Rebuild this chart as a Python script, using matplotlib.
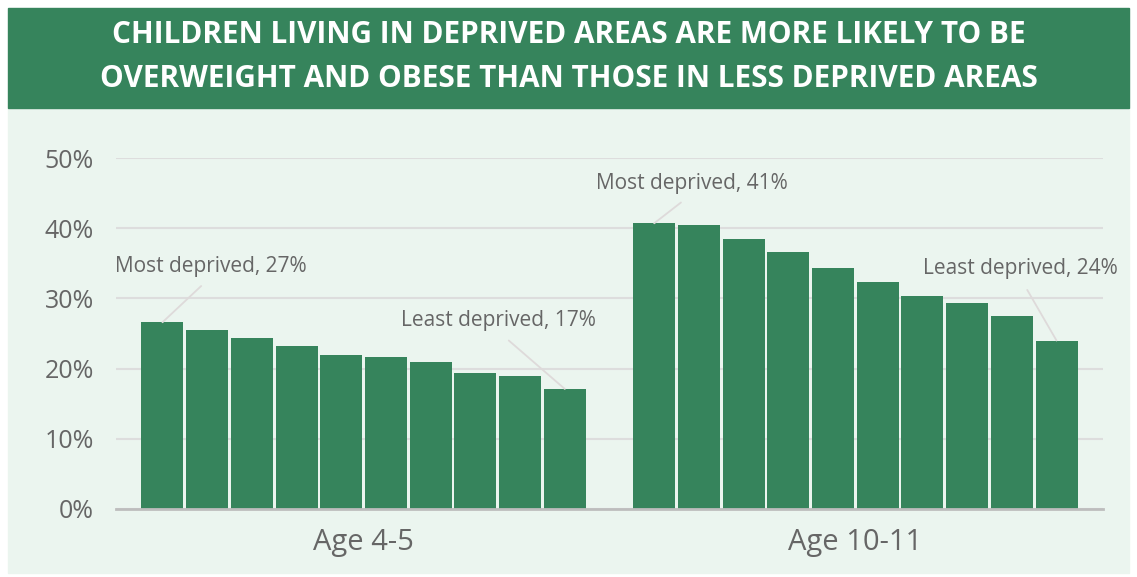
import matplotlib.pyplot as plt
from matplotlib.patches import Rectangle

# Datos: porcentaje de niños con sobrepeso y obesidad por decil de privación
grupos = ["Age 4-5", "Age 10-11"]
edad_4_5 = [26.6, 25.5, 24.3, 23.2, 22.0, 21.6, 20.9, 19.4, 19.0, 17.1]
edad_10_11 = [40.7, 40.4, 38.4, 36.6, 34.3, 32.3, 30.3, 29.4, 27.5, 24.0]
ticks_y = [0, 10, 20, 30, 40, 50]
etiquetas = ["Most deprived, 27%", "Least deprived, 17%",
             "Most deprived, 41%", "Least deprived, 24%"]

titulo = ("CHILDREN LIVING IN DEPRIVED AREAS ARE MORE LIKELY TO BE\n"
          "OVERWEIGHT AND OBESE THAN THOSE IN LESS DEPRIVED AREAS")

verde = "#36845c"
fondo = "#ebf5ef"
gris = "#666666"

plt.rcParams['font.family'] = ['Open Sans', 'DejaVu Sans']

fig = plt.figure(figsize=(11.37, 5.77), dpi=100)
W, H = 1137, 577

# Fondo del panel y banda del título
fig.patches.append(Rectangle((8 / W, 4 / H), 1121 / W, 465 / H,
                             transform=fig.transFigure, color=fondo, zorder=-2))
fig.patches.append(Rectangle((8 / W, 469 / H), 1121 / W, 100 / H,
                             transform=fig.transFigure, color=verde, zorder=-2))
fig.text(0.5, 1 - 57 / H, titulo, ha='center', va='center', color='white',
         fontsize=21.4, fontweight='bold', linespacing=1.57)

ax = fig.add_axes([116 / W, 68 / H, 987 / W, 351 / H])
ax.set_facecolor('none')

x1 = list(range(len(edad_4_5)))
x2 = [i + len(edad_4_5) + 1 for i in range(len(edad_10_11))]
ax.bar(x1, edad_4_5, width=0.94, color=verde, zorder=3)
ax.bar(x2, edad_10_11, width=0.94, color=verde, zorder=3)

ax.set_xlim(-1.04, 21.04)
ax.set_ylim(0, 50)
ax.set_yticks(ticks_y)
ax.set_yticklabels([f"{t}%" for t in ticks_y])
ax.set_xticks([(x1[0] + x1[-1]) / 2, (x2[0] + x2[-1]) / 2])
ax.set_xticklabels(grupos)
ax.tick_params(axis='y', length=0, pad=16, labelsize=18, labelcolor=gris)
ax.tick_params(axis='x', length=0, pad=14, labelsize=21, labelcolor=gris)
ax.grid(axis='y', color='#dddddd', linewidth=1.5, zorder=0)
for lado in ['top', 'right', 'left']:
    ax.spines[lado].set_visible(False)
ax.spines['bottom'].set_color('#bdbdbd')
ax.spines['bottom'].set_linewidth(2)
ax.spines['bottom'].set_zorder(4)

# Etiquetas con línea guía hacia la barra
puntos = [(x1[0], edad_4_5[0]), (x1[-1], edad_4_5[-1]),
          (x2[0], edad_10_11[0]), (x2[-1], edad_10_11[-1])]
pos_texto = [(1.09, 34.6), (7.51, 26.8), (11.85, 46.4), (19.2, 34.3)]
for texto, punto, pt in zip(etiquetas, puntos, pos_texto):
    ax.annotate(texto, xy=punto, xytext=pt, ha='center', va='center',
                fontsize=15, color=gris, zorder=5,
                arrowprops=dict(arrowstyle='-', color='#dedada', lw=1.3,
                                relpos=(0.5, 0), shrinkA=7, shrinkB=0))

plt.savefig("out.png", dpi=100)
plt.close()
